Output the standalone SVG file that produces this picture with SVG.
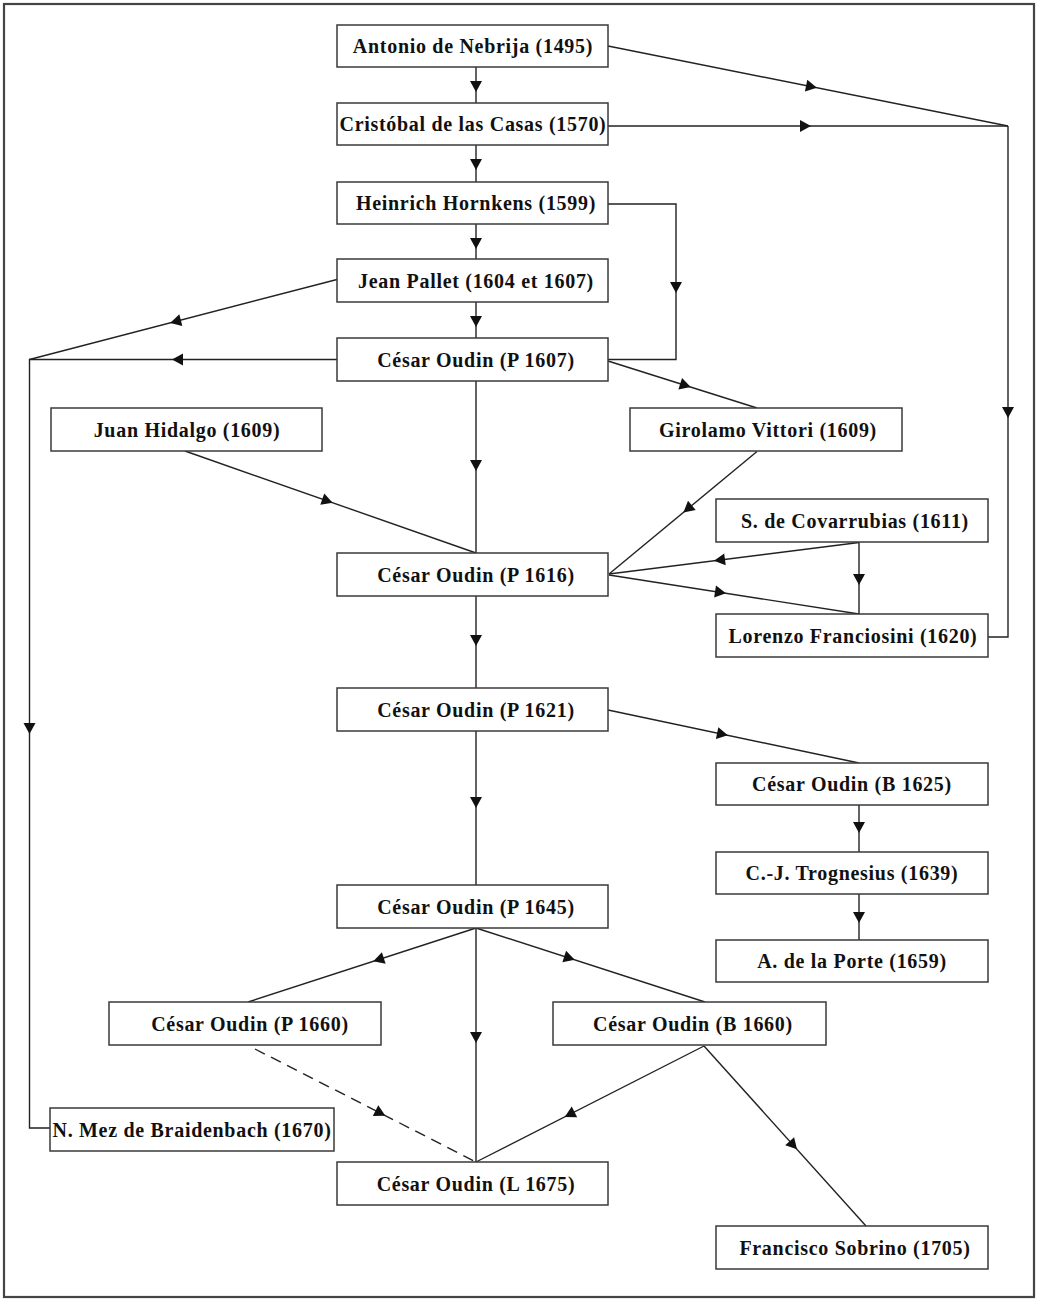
<svg xmlns="http://www.w3.org/2000/svg" xmlns:xlink="http://www.w3.org/1999/xlink" width="1039" height="1302" viewBox="0 0 1039 1302">
<style>
.box{fill:#fff;stroke:#3a3a3a;stroke-width:1.5}
.lbl{font-family:"Liberation Serif","Times New Roman",serif;font-weight:bold;font-size:20px;letter-spacing:0.7px;fill:#111;text-anchor:middle}
.ln{fill:none;stroke:#222;stroke-width:1.4}
.dash{stroke-dasharray:11,7}
.ah{fill:#111}
</style>
<defs>
<path id="ah" class="ah" d="M-5,-6 L6,0 L-5,6 z"/>
</defs>
<rect x="4" y="4" width="1030" height="1293" fill="#fff" stroke="#444" stroke-width="2.2"/>

<g id="connectors">
<path class="ln" d="M476,67 L476,103"/>
<path class="ln" d="M476,145 L476,182"/>
<path class="ln" d="M476,224 L476,259"/>
<path class="ln" d="M476,302 L476,338"/>
<path class="ln" d="M608,46 L1008,126"/>
<path class="ln" d="M608,126 L1008,126"/>
<path class="ln" d="M1008,126 L1008,637 L988,637"/>
<path class="ln" d="M608,204 L676,204 L676,359.5 L608,359.5"/>
<path class="ln" d="M337,279.5 L29.5,359.5"/>
<path class="ln" d="M337,359.5 L29.5,359.5 L29.5,1128 L50,1128"/>
<path class="ln" d="M608,361 L757,408"/>
<path class="ln" d="M476,381 L476,553"/>
<path class="ln" d="M185,451 L476,553"/>
<path class="ln" d="M757,451.5 L609,574"/>
<path class="ln" d="M859,542.5 L609,574"/>
<path class="ln" d="M609,575 L859,614"/>
<path class="ln" d="M859,542.5 L859,614"/>
<path class="ln" d="M476,596 L476,688"/>
<path class="ln" d="M608,710 L859,763"/>
<path class="ln" d="M859,805 L859,852"/>
<path class="ln" d="M859,894 L859,940"/>
<path class="ln" d="M476,731 L476,885"/>
<path class="ln" d="M476,928 L248,1002"/>
<path class="ln" d="M476,928 L705,1002"/>
<path class="ln" d="M476,928 L476,1162"/>
<path class="ln dash" d="M255,1049 L476,1162"/>
<path class="ln" d="M704,1046 L476,1162"/>
<path class="ln" d="M704,1046 L866,1226"/>
<use xlink:href="#ah" transform="translate(476,86) rotate(90)"/>
<use xlink:href="#ah" transform="translate(476,164) rotate(90)"/>
<use xlink:href="#ah" transform="translate(476,243) rotate(90)"/>
<use xlink:href="#ah" transform="translate(476,321) rotate(90)"/>
<use xlink:href="#ah" transform="translate(811,86.6) rotate(11.31)"/>
<use xlink:href="#ah" transform="translate(805,126) rotate(0)"/>
<use xlink:href="#ah" transform="translate(1008,412) rotate(90)"/>
<use xlink:href="#ah" transform="translate(676,287) rotate(90)"/>
<use xlink:href="#ah" transform="translate(176,321.4) rotate(165.4)"/>
<use xlink:href="#ah" transform="translate(178,359.5) rotate(180)"/>
<use xlink:href="#ah" transform="translate(29.5,728) rotate(90)"/>
<use xlink:href="#ah" transform="translate(685,385.3) rotate(17.5)"/>
<use xlink:href="#ah" transform="translate(476,465) rotate(90)"/>
<use xlink:href="#ah" transform="translate(327,500.8) rotate(19.3)"/>
<use xlink:href="#ah" transform="translate(688,508.6) rotate(140.4)"/>
<use xlink:href="#ah" transform="translate(720,560) rotate(172.8)"/>
<use xlink:href="#ah" transform="translate(720,592.3) rotate(8.87)"/>
<use xlink:href="#ah" transform="translate(859,579) rotate(90)"/>
<use xlink:href="#ah" transform="translate(476,640) rotate(90)"/>
<use xlink:href="#ah" transform="translate(722,734.1) rotate(11.92)"/>
<use xlink:href="#ah" transform="translate(859,827) rotate(90)"/>
<use xlink:href="#ah" transform="translate(859,917) rotate(90)"/>
<use xlink:href="#ah" transform="translate(476,802) rotate(90)"/>
<use xlink:href="#ah" transform="translate(379,959.5) rotate(162)"/>
<use xlink:href="#ah" transform="translate(569,958) rotate(17.9)"/>
<use xlink:href="#ah" transform="translate(476,1037) rotate(90)"/>
<use xlink:href="#ah" transform="translate(380,1112.9) rotate(27.1)"/>
<use xlink:href="#ah" transform="translate(570,1114.2) rotate(153)"/>
<use xlink:href="#ah" transform="translate(793,1144.9) rotate(48)"/>
</g>

<g id="n-nebrija"><rect class="box" x="337" y="25" width="271" height="42"/><text class="lbl" x="473" y="53">Antonio de Nebrija (1495)</text></g>
<g id="n-casas"><rect class="box" x="337" y="103" width="271" height="42"/><text class="lbl" x="473" y="131">Cristóbal de las Casas (1570)</text></g>
<g id="n-hornkens"><rect class="box" x="337" y="182" width="271" height="42"/><text class="lbl" x="476" y="210">Heinrich Hornkens (1599)</text></g>
<g id="n-pallet"><rect class="box" x="337" y="259" width="271" height="43"/><text class="lbl" x="476" y="288">Jean Pallet (1604 et 1607)</text></g>
<g id="n-oudin1607"><rect class="box" x="337" y="338" width="271" height="43"/><text class="lbl" x="476" y="367">César Oudin (P 1607)</text></g>
<g id="n-hidalgo"><rect class="box" x="51" y="408" width="271" height="43"/><text class="lbl" x="187" y="437">Juan Hidalgo (1609)</text></g>
<g id="n-vittori"><rect class="box" x="630" y="408" width="272" height="43"/><text class="lbl" x="768" y="437">Girolamo Vittori (1609)</text></g>
<g id="n-oudin1616"><rect class="box" x="337" y="553" width="271" height="43"/><text class="lbl" x="476" y="582">César Oudin (P 1616)</text></g>
<g id="n-covarrubias"><rect class="box" x="716" y="499" width="272" height="43"/><text class="lbl" x="855" y="528">S. de Covarrubias (1611)</text></g>
<g id="n-franciosini"><rect class="box" x="716" y="614" width="272" height="43"/><text class="lbl" x="853" y="643">Lorenzo Franciosini (1620)</text></g>
<g id="n-oudin1621"><rect class="box" x="337" y="688" width="271" height="43"/><text class="lbl" x="476" y="717">César Oudin (P 1621)</text></g>
<g id="n-oudin1625"><rect class="box" x="716" y="763" width="272" height="42"/><text class="lbl" x="852" y="791">César Oudin (B 1625)</text></g>
<g id="n-trognesius"><rect class="box" x="716" y="852" width="272" height="42"/><text class="lbl" x="852" y="880">C.-J. Trognesius (1639)</text></g>
<g id="n-porte"><rect class="box" x="716" y="940" width="272" height="42"/><text class="lbl" x="852" y="968">A. de la Porte (1659)</text></g>
<g id="n-oudin1645"><rect class="box" x="337" y="885" width="271" height="43"/><text class="lbl" x="476" y="914">César Oudin (P 1645)</text></g>
<g id="n-oudinP1660"><rect class="box" x="109" y="1002" width="272" height="43"/><text class="lbl" x="250" y="1031">César Oudin (P 1660)</text></g>
<g id="n-oudinB1660"><rect class="box" x="553" y="1002" width="273" height="43"/><text class="lbl" x="693" y="1031">César Oudin (B 1660)</text></g>
<g id="n-mez"><rect class="box" x="50" y="1108" width="284" height="43"/><text class="lbl" x="192" y="1137">N. Mez de Braidenbach (1670)</text></g>
<g id="n-oudin1675"><rect class="box" x="337" y="1162" width="271" height="43"/><text class="lbl" x="476" y="1191">César Oudin (L 1675)</text></g>
<g id="n-sobrino"><rect class="box" x="716" y="1226" width="272" height="43"/><text class="lbl" x="855" y="1255">Francisco Sobrino (1705)</text></g>
</svg>
